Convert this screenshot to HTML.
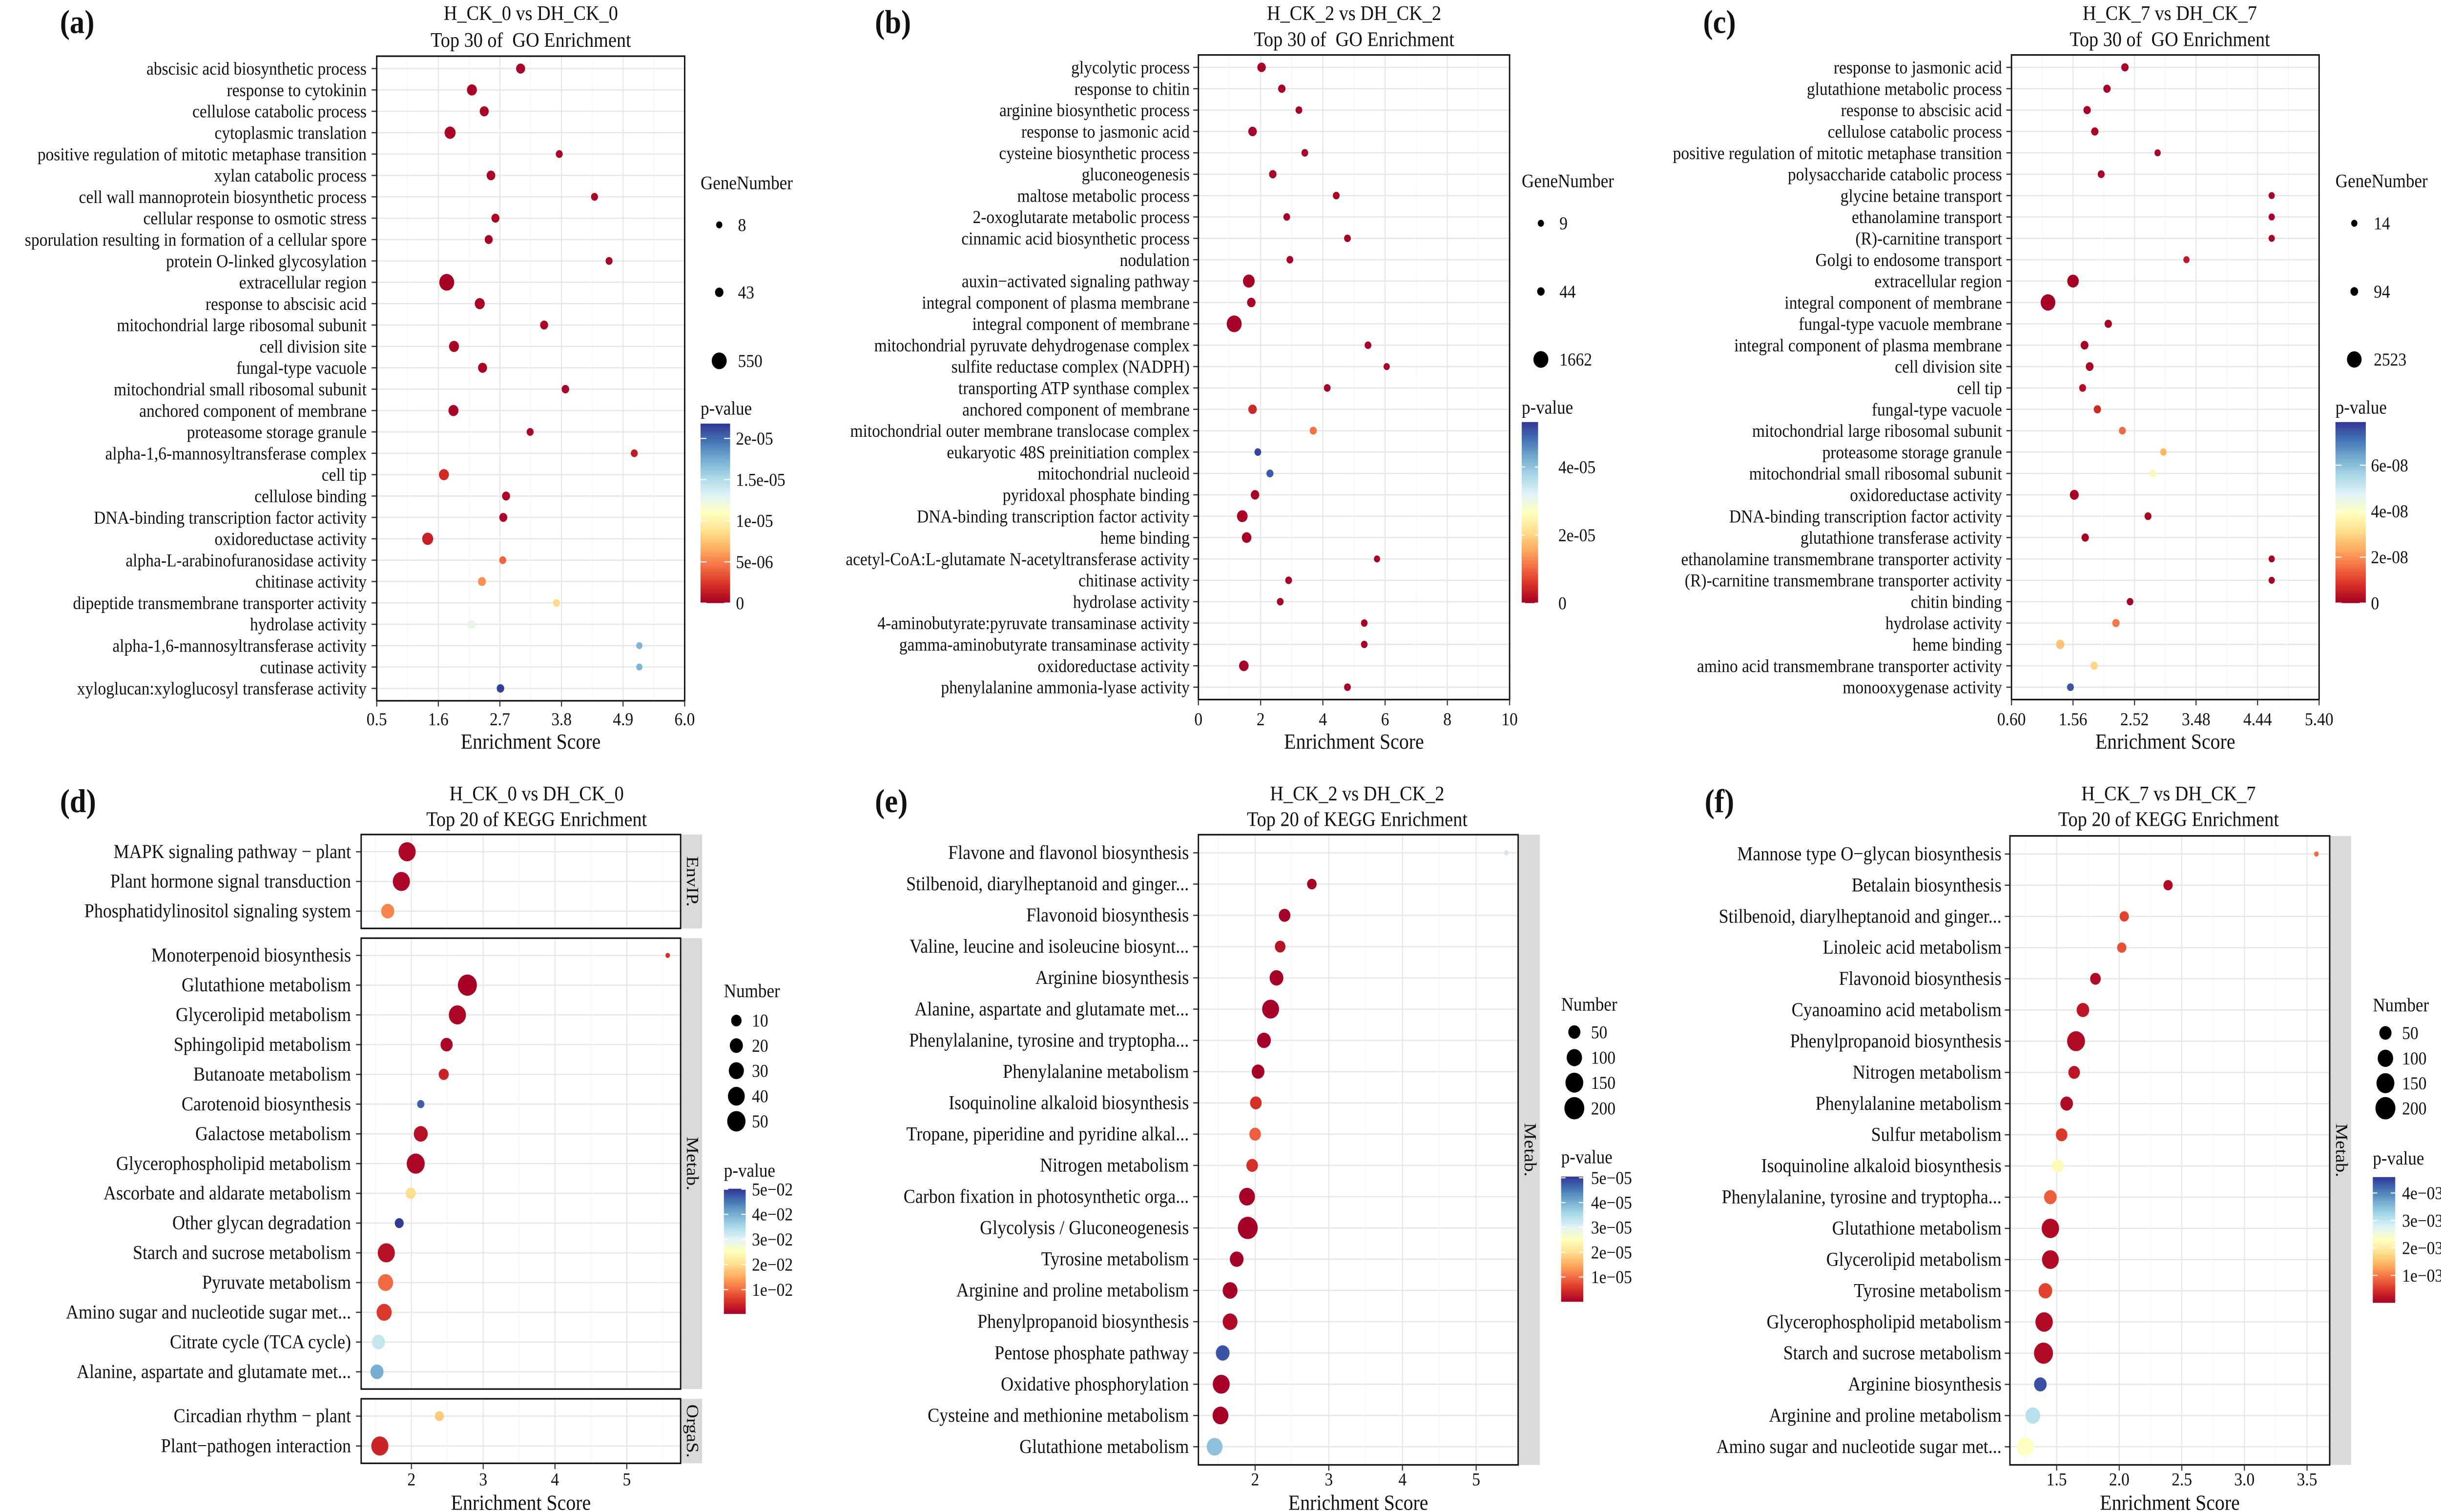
<!DOCTYPE html>
<html><head><meta charset="utf-8"><style>
html,body{margin:0;padding:0;background:#fff;width:100%;height:100%;overflow:hidden;}
svg{display:block;width:100vw;height:100vh;}
text{font-family:"Liberation Serif",serif;fill:#111;white-space:pre;}
</style></head>
<body>
<svg id="fig" xmlns="http://www.w3.org/2000/svg" viewBox="0 0 1568 869.5" preserveAspectRatio="none">
<defs>
<linearGradient id="rdylbu" x1="0" y1="1" x2="0" y2="0">
<stop offset="0" stop-color="#a50026"/><stop offset="0.1" stop-color="#d73027"/><stop offset="0.2" stop-color="#f46d43"/><stop offset="0.3" stop-color="#fdae61"/><stop offset="0.4" stop-color="#fee090"/><stop offset="0.5" stop-color="#ffffbf"/><stop offset="0.6" stop-color="#e0f3f8"/><stop offset="0.7" stop-color="#abd9e9"/><stop offset="0.8" stop-color="#74add1"/><stop offset="0.9" stop-color="#4575b4"/><stop offset="1" stop-color="#313695"/>
</linearGradient>
</defs>
</svg>
<script>
// ---------- Panel (a) data ----------
const aTerms = ["abscisic acid biosynthetic process","response to cytokinin","cellulose catabolic process","cytoplasmic translation","positive regulation of mitotic metaphase transition","xylan catabolic process","cell wall mannoprotein biosynthetic process","cellular response to osmotic stress","sporulation resulting in formation of a cellular spore","protein O-linked glycosylation","extracellular region","response to abscisic acid","mitochondrial large ribosomal subunit","cell division site","fungal-type vacuole","mitochondrial small ribosomal subunit","anchored component of membrane","proteasome storage granule","alpha-1,6-mannosyltransferase complex","cell tip","cellulose binding","DNA-binding transcription factor activity","oxidoreductase activity","alpha-L-arabinofuranosidase activity","chitinase activity","dipeptide transmembrane transporter activity","hydrolase activity","alpha-1,6-mannosyltransferase activity","cutinase activity","xyloglucan:xyloglucosyl transferase activity"];
const aScore = [3.07,2.20,2.42,1.81,3.76,2.54,4.39,2.62,2.50,4.65,1.75,2.34,3.49,1.88,2.39,3.87,1.87,3.24,5.10,1.70,2.81,2.76,1.41,2.75,2.38,3.71,2.19,5.19,5.19,2.71];
const aCount = [64,108,64,171,12,50,12,31,31,12,550,108,31,108,64,20,108,12,12,108,31,31,171,12,31,12,31,8,8,20];
const aPval = [2e-7,2e-7,2e-7,2e-7,2e-7,2e-7,2e-7,2e-7,2e-7,2e-7,1e-7,2e-7,2e-7,2e-7,2e-7,2e-7,2e-7,3e-7,1.2e-6,2e-6,3e-7,3e-7,1.5e-6,4e-6,5.5e-6,8.5e-6,1.25e-5,1.7e-5,1.7e-5,2.15e-5];
const aTicks = [0.5,1.6,2.7,3.8,4.9,6.0];
const aTickLabels = ["0.5","1.6","2.7","3.8","4.9","6.0"];
const aSizeBreaks = [8,43,550];
const aPTicks = [0,5e-6,1e-5,1.5e-5,2e-5];
const aPTickLabels = ["0","5e-06","1e-05","1.5e-05","2e-05"];

// ---------- Panel (b) data ----------
const bTerms = ["glycolytic process","response to chitin","arginine biosynthetic process","response to jasmonic acid","cysteine biosynthetic process","gluconeogenesis","maltose metabolic process","2-oxoglutarate metabolic process","cinnamic acid biosynthetic process","nodulation","auxin\u2212activated signaling pathway","integral component of plasma membrane","integral component of membrane","mitochondrial pyruvate dehydrogenase complex","sulfite reductase complex (NADPH)","transporting ATP synthase complex","anchored component of membrane","mitochondrial outer membrane translocase complex","eukaryotic 48S preinitiation complex","mitochondrial nucleoid","pyridoxal phosphate binding","DNA-binding transcription factor activity","heme binding","acetyl-CoA:L-glutamate N-acetyltransferase activity","chitinase activity","hydrolase activity","4-aminobutyrate:pyruvate transaminase activity","gamma-aminobutyrate transaminase activity","oxidoreductase activity","phenylalanine ammonia-lyase activity"];
const bScore = [2.03,2.68,3.23,1.74,3.42,2.39,4.43,2.84,4.79,2.94,1.62,1.70,1.15,5.45,6.05,4.14,1.74,3.69,1.91,2.30,1.82,1.41,1.55,5.74,2.90,2.63,5.33,5.33,1.46,4.79];
const bCount = [121,40,15,121,15,40,15,15,15,15,665,121,1662,15,9,15,121,25,15,25,121,434,252,9,15,15,12,12,252,15];
const bPval = [3e-7,3e-7,3e-7,3e-7,3e-7,3e-7,3e-7,3e-7,3e-7,3e-7,2e-7,3e-7,1e-7,3e-7,3e-7,3e-7,4.5e-6,1.1e-5,5.2e-5,5e-5,5e-7,3e-7,3e-7,3e-7,3e-7,3e-7,3e-7,3e-7,3e-7,3e-7];
const bTicks = [0,2,4,6,8,10];
const bTickLabels = ["0","2","4","6","8","10"];
const bSizeBreaks = [9,44,1662];
const bPTicks = [0,2e-5,4e-5];
const bPTickLabels = ["0","2e-05","4e-05"];

// ---------- Panel (c) data ----------
const cTerms = ["response to jasmonic acid","glutathione metabolic process","response to abscisic acid","cellulose catabolic process","positive regulation of mitotic metaphase transition","polysaccharide catabolic process","glycine betaine transport","ethanolamine transport","(R)-carnitine transport","Golgi to endosome transport","extracellular region","integral component of membrane","fungal-type vacuole membrane","integral component of plasma membrane","cell division site","cell tip","fungal-type vacuole","mitochondrial large ribosomal subunit","proteasome storage granule","mitochondrial small ribosomal subunit","oxidoreductase activity","DNA-binding transcription factor activity","glutathione transferase activity","ethanolamine transmembrane transporter activity","(R)-carnitine transmembrane transporter activity","chitin binding","hydrolase activity","heme binding","amino acid transmembrane transporter activity","monooxygenase activity"];
const cScore = [2.37,2.09,1.78,1.90,2.88,2.00,4.66,4.66,4.66,3.33,1.56,1.17,2.11,1.74,1.82,1.71,1.94,2.33,2.97,2.81,1.58,2.73,1.75,4.66,4.66,2.45,2.23,1.36,1.89,1.52];
const cCount = [57,57,57,57,14,30,14,14,14,14,1010,2523,57,100,100,30,57,30,20,20,270,30,57,14,14,20,57,179,57,30];
const cPval = [5e-10,5e-10,5e-10,5e-10,5e-10,5e-10,5e-10,5e-10,5e-10,4e-9,3e-10,1e-10,5e-10,5e-10,5e-10,2e-9,7e-9,1.5e-8,2.5e-8,3.7e-8,5e-10,5e-10,5e-10,5e-10,5e-10,5e-10,1.7e-8,2.7e-8,3e-8,7.5e-8];
const cTicks = [0.60,1.56,2.52,3.48,4.44,5.40];
const cTickLabels = ["0.60","1.56","2.52","3.48","4.44","5.40"];
const cSizeBreaks = [14,94,2523];
const cPTicks = [0,2e-8,4e-8,6e-8];
const cPTickLabels = ["0","2e-08","4e-08","6e-08"];

// ---------- Panel (d) data ----------
const dTerms = ["MAPK signaling pathway \u2212 plant","Plant hormone signal transduction","Phosphatidylinositol signaling system","Monoterpenoid biosynthesis","Glutathione metabolism","Glycerolipid metabolism","Sphingolipid metabolism","Butanoate metabolism","Carotenoid biosynthesis","Galactose metabolism","Glycerophospholipid metabolism","Ascorbate and aldarate metabolism","Other glycan degradation","Starch and sucrose metabolism","Pyruvate metabolism","Amino sugar and nucleotide sugar met...","Citrate cycle (TCA cycle)","Alanine, aspartate and glutamate met...","Circadian rhythm \u2212 plant","Plant\u2212pathogen interaction"];
const dGroup = ["EnvIP.","EnvIP.","EnvIP.","Metab.","Metab.","Metab.","Metab.","Metab.","Metab.","Metab.","Metab.","Metab.","Metab.","Metab.","Metab.","Metab.","Metab.","Metab.","OrgaS.","OrgaS."];
const dScore = [1.94,1.86,1.67,5.57,2.78,2.64,2.49,2.45,2.13,2.13,2.06,1.99,1.83,1.65,1.64,1.62,1.54,1.52,2.39,1.56];
const dCount = [42,42,20,1,55,42,16,9,3,24,48,9,6,42,30,30,20,20,6,42];
const dPval = [0.001,0.001,0.012,0.005,0.0005,0.001,0.001,0.004,0.047,0.002,0.001,0.02,0.05,0.002,0.01,0.006,0.033,0.04,0.018,0.004];
const dTicks = [2,3,4,5];
const dTickLabels = ["2","3","4","5"];
const dSizeBreaks = [10,20,30,40,50];
const dPTicks = [0.01,0.02,0.03,0.04,0.05];
const dPTickLabels = ["1e\u221202","2e\u221202","3e\u221202","4e\u221202","5e\u221202"];

// ---------- Panel (e) data ----------
const eTerms = ["Flavone and flavonol biosynthesis","Stilbenoid, diarylheptanoid and ginger...","Flavonoid biosynthesis","Valine, leucine and isoleucine biosynt...","Arginine biosynthesis","Alanine, aspartate and glutamate met...","Phenylalanine, tyrosine and tryptopha...","Phenylalanine metabolism","Isoquinoline alkaloid biosynthesis","Tropane, piperidine and pyridine alkal...","Nitrogen metabolism","Carbon fixation in photosynthetic orga...","Glycolysis / Gluconeogenesis","Tyrosine metabolism","Arginine and proline metabolism","Phenylpropanoid biosynthesis","Pentose phosphate pathway","Oxidative phosphorylation","Cysteine and methionine metabolism","Glutathione metabolism"];
const eGroup = ["Metab.","Metab.","Metab.","Metab.","Metab.","Metab.","Metab.","Metab.","Metab.","Metab.","Metab.","Metab.","Metab.","Metab.","Metab.","Metab.","Metab.","Metab.","Metab.","Metab."];
const eScore = [5.41,2.77,2.40,2.34,2.29,2.21,2.12,2.04,2.01,2.00,1.96,1.89,1.90,1.75,1.66,1.66,1.56,1.54,1.53,1.45];
const eCount = [3,23,44,33,73,130,73,58,44,44,44,109,200,73,90,90,73,130,109,109];
const ePval = [3.2e-5,2e-7,1e-7,2e-6,1e-7,1e-7,1e-7,1e-7,5e-6,9e-6,5e-6,1e-7,1e-7,1e-7,1e-7,1e-6,4.8e-5,1e-7,1e-7,3.8e-5];
const eTicks = [2,3,4,5];
const eTickLabels = ["2","3","4","5"];
const eSizeBreaks = [50,100,150,200];
const ePTicks = [1e-5,2e-5,3e-5,4e-5,5e-5];
const ePTickLabels = ["1e\u221205","2e\u221205","3e\u221205","4e\u221205","5e\u221205"];

// ---------- Panel (f) data ----------
const fTerms = ["Mannose type O\u2212glycan biosynthesis","Betalain biosynthesis","Stilbenoid, diarylheptanoid and ginger...","Linoleic acid metabolism","Flavonoid biosynthesis","Cyanoamino acid metabolism","Phenylpropanoid biosynthesis","Nitrogen metabolism","Phenylalanine metabolism","Sulfur metabolism","Isoquinoline alkaloid biosynthesis","Phenylalanine, tyrosine and tryptopha...","Glutathione metabolism","Glycerolipid metabolism","Tyrosine metabolism","Glycerophospholipid metabolism","Starch and sucrose metabolism","Arginine biosynthesis","Arginine and proline metabolism","Amino sugar and nucleotide sugar met..."];
const fGroup = ["Metab.","Metab.","Metab.","Metab.","Metab.","Metab.","Metab.","Metab.","Metab.","Metab.","Metab.","Metab.","Metab.","Metab.","Metab.","Metab.","Metab.","Metab.","Metab.","Metab."];
const fScore = [3.575,2.39,2.04,2.02,1.81,1.71,1.655,1.64,1.58,1.54,1.51,1.45,1.45,1.45,1.41,1.40,1.395,1.37,1.31,1.25];
const fCount = [2,20,20,20,32,55,149,42,55,42,42,55,139,126,71,139,175,55,86,126];
const fPval = [9e-4,1e-4,6e-4,7e-4,1e-4,2e-4,1e-4,2e-4,1e-4,5e-4,2.2e-3,8e-4,1e-4,1e-4,6e-4,1e-4,1e-4,4.4e-3,3.1e-3,2.3e-3];
const fTicks = [1.5,2.0,2.5,3.0,3.5];
const fTickLabels = ["1.5","2.0","2.5","3.0","3.5"];
const fSizeBreaks = [50,100,150,200];
const fPTicks = [1e-3,2e-3,3e-3,4e-3];
const fPTickLabels = ["1e\u221203","2e\u221203","3e\u221203","4e\u221203"];

const NS = "http://www.w3.org/2000/svg";
const svg = document.getElementById("fig");
const STOPS = ["#a50026","#d73027","#f46d43","#fdae61","#fee090","#ffffbf","#e0f3f8","#abd9e9","#74add1","#4575b4","#313695"];

function mk(tag, attrs, parent) {
  const e = document.createElementNS(NS, tag);
  for (const k in attrs) e.setAttribute(k, attrs[k]);
  (parent || svg).appendChild(e);
  return e;
}
function hex(h){return [parseInt(h.substr(1,2),16),parseInt(h.substr(3,2),16),parseInt(h.substr(5,2),16)];}
function colorAt(t) {
  t = Math.max(0, Math.min(1, t));
  const p = t * 10, i = Math.min(9, Math.floor(p)), f = p - i;
  const a = hex(STOPS[i]), b = hex(STOPS[i+1]);
  return "rgb(" + [0,1,2].map(k => Math.round(a[k] + (b[k]-a[k])*f)).join(",") + ")";
}

function drawPanel(P) {
  const g = mk("g", {});
  
  
  const bx0 = P.box[0], bx1 = P.box[2];
  const xs = v => bx0 + (v - P.xdom[0]) / (P.xdom[1] - P.xdom[0]) * (bx1 - bx0);
  const nmin = Math.min(...P.count), nmax = Math.max(...P.count);
  const rad = n => P.rmin + (P.rmax - P.rmin) * Math.sqrt(Math.max(0, (n - nmin) / (nmax - nmin)));
  const pcol = p => colorAt((p - P.pdom[0]) / (P.pdom[1] - P.pdom[0]));

  const pl = mk("text", {x: P.plx, y: P.ply, "font-size": 19, "font-weight": "bold"}, g);
  pl.textContent = "(" + P.id + ")";
  
  
  P.title.forEach((line, i) => {
    const t = mk("text", {x: P.tx, y: P.ty[i], "font-size": 12, "text-anchor": "middle", "dominant-baseline": "central"}, g);
    t.textContent = line;
    
    
  });

  const facets = P.facets;
  const rowY = [];
  facets.forEach(F => {
    const idx = [];
    P.terms.forEach((_, i) => { if (P.group[i] === F.name) idx.push(i); });
    const n = idx.length, ex = 0.58;
    const step = (F.y1 - F.y0) / (n - 1 + 2 * ex);
    idx.forEach((i, k) => rowY[i] = F.y0 + (ex + k) * step);
    const bg = mk("rect", {x: bx0, y: F.y0, width: bx1 - bx0, height: F.y1 - F.y0, fill: "#fff"}, g);
    
    
    for (let k = 0; k < P.ticks.length + 1; k++) {
      const step2 = P.ticks[1] - P.ticks[0];
      const v = P.ticks[0] - step2 / 2 + k * step2;
      if (v <= P.xdom[0] || v >= P.xdom[1]) continue;
      const l = mk("line", {x1: xs(v), x2: xs(v), y1: F.y0, y2: F.y1, stroke: "#f2f2f2", "stroke-width": 0.4}, g);
      
      
    }
    P.ticks.forEach(v => {
      const l = mk("line", {x1: xs(v), x2: xs(v), y1: F.y0, y2: F.y1, stroke: "#e6e6e6", "stroke-width": 0.7}, g);
      
      
    });
    idx.forEach(i => {
      const l = mk("line", {x1: bx0, x2: bx1, y1: rowY[i], y2: rowY[i], stroke: "#e6e6e6", "stroke-width": 0.7}, g);
      
      
    });
    if (F.strip) {
      const s = mk("rect", {x: bx1, y: F.y0, width: P.stripW, height: F.y1 - F.y0, fill: "#d9d9d9"}, g);
      
      
      const cx = bx1 + P.stripW / 2 + 0.5, cy = (F.y0 + F.y1) / 2;
      const st = mk("text", {x: cx, y: cy, "font-size": 11, "text-anchor": "middle", "dominant-baseline": "central", transform: "rotate(90 " + cx + " " + cy + ")"}, g);
      st.textContent = F.name;
      
      
    }
  });

  P.terms.forEach((term, i) => {
    const y = rowY[i];
    const lab = mk("text", {x: P.labelRight, y: y, "font-size": P.labelFont, "text-anchor": "end", "dominant-baseline": "central"}, g);
    lab.textContent = term;
    
    
    const tk = mk("line", {x1: bx0 - 3.3, x2: bx0, y1: y, y2: y, stroke: "#333", "stroke-width": 0.7}, g);
    
    
    const c = mk("circle", {cx: xs(P.score[i]), cy: y, r: rad(P.count[i]), fill: pcol(P.pval[i])}, g);
    
    
  });

  facets.forEach(F => {
    const b = mk("rect", {x: bx0, y: F.y0, width: bx1 - bx0, height: F.y1 - F.y0, fill: "none", stroke: "#111", "stroke-width": 0.9}, g);
    
    
  });
  const by1 = facets[facets.length - 1].y1;
  P.ticks.forEach((v, i) => {
    const tk = mk("line", {x1: xs(v), x2: xs(v), y1: by1, y2: by1 + 3.3, stroke: "#333", "stroke-width": 0.7}, g);
    
    
    const t = mk("text", {x: xs(v), y: P.tickY, "font-size": 10.5, "text-anchor": "middle", "dominant-baseline": "central"}, g);
    t.textContent = P.tickLabels[i];
    
    
  });
  const at = mk("text", {x: (bx0 + bx1) / 2, y: P.axisY, "font-size": 12.5, "text-anchor": "middle", "dominant-baseline": "central"}, g);
  at.textContent = "Enrichment Score";
  
  

  const L = P.legend;
  const lt = mk("text", {x: L.x, y: L.sizeTitleY, "font-size": 11, "dominant-baseline": "central"}, g);
  lt.textContent = P.sizeTitle;
  
  
  P.sizeBreaks.forEach((n, i) => {
    const c = mk("circle", {cx: L.dotX, cy: L.dotY[i], r: rad(n), fill: "#000"}, g);
    
    
    const t = mk("text", {x: L.dotLabelX, y: L.dotY[i], "font-size": 10.5, "dominant-baseline": "central"}, g);
    t.textContent = String(n);
    
    
  });
  const pt = mk("text", {x: L.x, y: L.pTitleY, "font-size": 11, "dominant-baseline": "central"}, g);
  pt.textContent = "p-value";
  
  
  const bar = mk("rect", {x: L.x, y: L.barY0, width: L.barW, height: L.barY1 - L.barY0, fill: "url(#rdylbu)"}, g);
  
  
  const ys = p => L.barY1 - (p - P.pdom[0]) / (P.pdom[1] - P.pdom[0]) * (L.barY1 - L.barY0);
  P.pTicks.forEach((p, i) => {
    const y = ys(p);
    const w1 = mk("line", {x1: L.x, x2: L.x + L.barW * 0.2, y1: y, y2: y, stroke: "#fff", "stroke-width": 0.6}, g);
    
    
    const w2 = mk("line", {x1: L.x + L.barW * 0.8, x2: L.x + L.barW, y1: y, y2: y, stroke: "#fff", "stroke-width": 0.6}, g);
    
    
    const t = mk("text", {x: L.pLabelX, y: y, "font-size": 10.5, "dominant-baseline": "central"}, g);
    t.textContent = P.pTickLabels[i];
    
    
  });
}

const goGroup = n => Array(n).fill("GO");
const goFacet = (y0, y1) => [{name: "GO", y0: y0, y1: y1, strip: false}];

drawPanel({id:"a", terms:aTerms, group:goGroup(aTerms.length), score:aScore, count:aCount, pval:aPval,
  ticks:aTicks, tickLabels:aTickLabels, sizeBreaks:aSizeBreaks, pTicks:aPTicks, pTickLabels:aPTickLabels,
  box:[242,32.3,439.8,403], facets:goFacet(32.3,403), xdom:[0.5,6.0], pdom:[0,2.18e-5], rmin:2.0, rmax:4.8,
  labelRight:235.5, labelFont:10.5, plx:38.5, ply:19, tx:341, ty:[7.5,23], title:["H_CK_0 vs DH_CK_0","Top 30 of  GO Enrichment"],
  tickY:413.5, axisY:426.6, sizeTitle:"GeneNumber",
  legend:{x:450, sizeTitleY:105.4, dotX:462, dotY:[129.3,168.1,207.5], dotLabelX:474, pTitleY:235, barY0:243.6, barY1:346.8, barW:19, pLabelX:472.7}});

drawPanel({id:"b", terms:bTerms, group:goGroup(bTerms.length), score:bScore, count:bCount, pval:bPval,
  ticks:bTicks, tickLabels:bTickLabels, sizeBreaks:bSizeBreaks, pTicks:bPTicks, pTickLabels:bPTickLabels,
  box:[769.8,31.6,969.7,402.3], facets:goFacet(31.6,402.3), xdom:[0,10], pdom:[0,5.32e-5], rmin:2.0, rmax:4.8,
  labelRight:764.2, labelFont:10.5, plx:562, ply:19, tx:869.8, ty:[7.5,22.5], title:["H_CK_2 vs DH_CK_2","Top 30 of  GO Enrichment"],
  tickY:413.5, axisY:426.6, sizeTitle:"GeneNumber",
  legend:{x:977.5, sizeTitleY:104.3, dotX:989.8, dotY:[128.4,167.6,206.7], dotLabelX:1001.7, pTitleY:234.4, barY0:242.7, barY1:346.8, barW:10.5, pLabelX:1001}});

drawPanel({id:"c", terms:cTerms, group:goGroup(cTerms.length), score:cScore, count:cCount, pval:cPval,
  ticks:cTicks, tickLabels:cTickLabels, sizeBreaks:cSizeBreaks, pTicks:cPTicks, pTickLabels:cPTickLabels,
  box:[1292.1,31.6,1489.7,402.3], facets:goFacet(31.6,402.3), xdom:[0.6,5.4], pdom:[0,7.88e-8], rmin:2.0, rmax:4.7,
  labelRight:1286, labelFont:10.5, plx:1094, ply:19, tx:1393.8, ty:[7.5,22.5], title:["H_CK_7 vs DH_CK_7","Top 30 of  GO Enrichment"],
  tickY:413.5, axisY:426.6, sizeTitle:"GeneNumber",
  legend:{x:1500.2, sizeTitleY:104.3, dotX:1512.3, dotY:[128.4,167.6,206.7], dotLabelX:1524.8, pTitleY:234.4, barY0:242.7, barY1:346.8, barW:19.5, pLabelX:1523}});

drawPanel({id:"d", terms:dTerms, group:dGroup, score:dScore, count:dCount, pval:dPval,
  ticks:dTicks, tickLabels:dTickLabels, sizeBreaks:dSizeBreaks, pTicks:dPTicks, pTickLabels:dPTickLabels,
  box:[232,479.9,437.2,841.5], facets:[{name:"EnvIP.",y0:479.9,y1:533.9,strip:true},{name:"Metab.",y0:539.5,y1:798.8,strip:true},{name:"OrgaS.",y0:804.4,y1:841.5,strip:true}],
  stripW:13.8, xdom:[1.30,5.75], pdom:[0.0003,0.0502], rmin:1.45, rmax:6.1,
  labelRight:225.5, labelFont:11.3, plx:38.5, ply:467, tx:344.7, ty:[456.3,471], title:["H_CK_0 vs DH_CK_0","Top 20 of KEGG Enrichment"],
  tickY:850.6, axisY:864.3, sizeTitle:"Number",
  legend:{x:465, sizeTitleY:570, dotX:473, dotY:[586.9,601.3,615.7,630.4,644.8], dotLabelX:483, pTitleY:673.3, barY0:683.6, barY1:755.6, barW:14, pLabelX:483}});

drawPanel({id:"e", terms:eTerms, group:eGroup, score:eScore, count:eCount, pval:ePval,
  ticks:eTicks, tickLabels:eTickLabels, sizeBreaks:eSizeBreaks, pTicks:ePTicks, pTickLabels:ePTickLabels,
  box:[769.8,480,975.2,842.4], facets:[{name:"Metab.",y0:480,y1:842.4,strip:true}],
  stripW:14, xdom:[1.23,5.57], pdom:[0,5.05e-5], rmin:1.5, rmax:6.4,
  labelRight:763.7, labelFont:11.3, plx:562, ply:467, tx:871.8, ty:[456.3,471], title:["H_CK_2 vs DH_CK_2","Top 20 of KEGG Enrichment"],
  tickY:850.6, axisY:864.3, sizeTitle:"Number",
  legend:{x:1002.8, sizeTitleY:577.7, dotX:1011.3, dotY:[593.5,608.2,622.6,637.3], dotLabelX:1022, pTitleY:665.5, barY0:676.6, barY1:748.6, barW:14.2, pLabelX:1022}});

drawPanel({id:"f", terms:fTerms, group:fGroup, score:fScore, count:fCount, pval:fPval,
  ticks:fTicks, tickLabels:fTickLabels, sizeBreaks:fSizeBreaks, pTicks:fPTicks, pTickLabels:fPTickLabels,
  box:[1291.1,480.7,1496.5,842.4], facets:[{name:"Metab.",y0:480.7,y1:842.4,strip:true}],
  stripW:13.8, xdom:[1.127,3.681], pdom:[0,4.58e-3], rmin:1.5, rmax:6.1,
  labelRight:1285.7, labelFont:11.3, plx:1095, ply:467, tx:1393, ty:[456.3,471], title:["H_CK_7 vs DH_CK_7","Top 20 of KEGG Enrichment"],
  tickY:850.6, axisY:864.3, sizeTitle:"Number",
  legend:{x:1524.2, sizeTitleY:578.2, dotX:1532.3, dotY:[594,608.6,622.9,637.3], dotLabelX:1543, pTitleY:666.3, barY0:676.9, barY1:749.2, barW:14.4, pLabelX:1543}});
</script>
</body></html>
